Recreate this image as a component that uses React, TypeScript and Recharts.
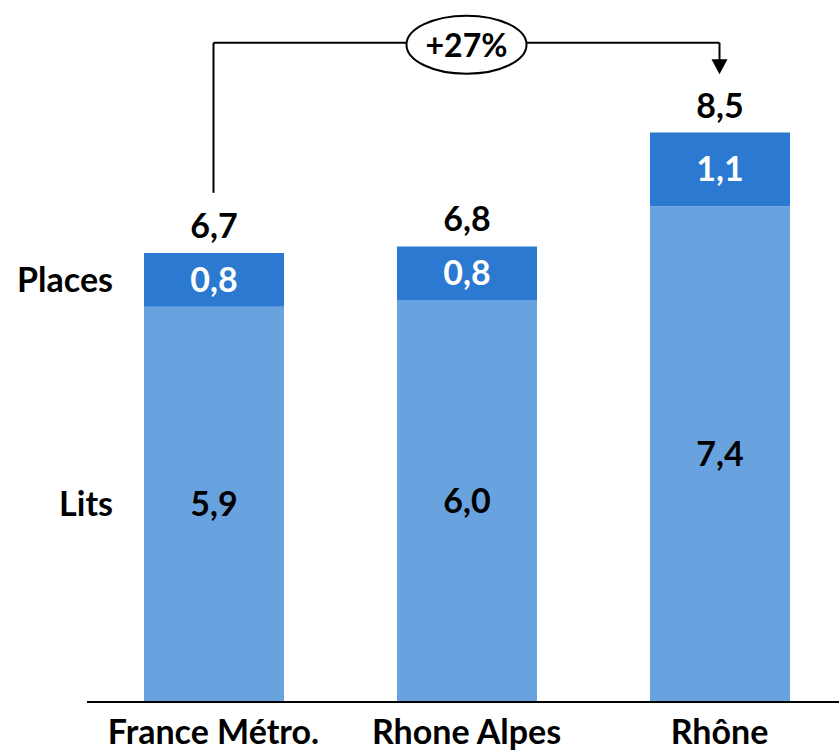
import React from 'react';
import { BarChart, Bar, XAxis, YAxis, LabelList, ReferenceLine, ReferenceDot } from 'recharts';

const categories = ['France Métro.', 'Rhone Alpes', 'Rhône'];
const lits = [5.9, 6.0, 7.4];
const places = [0.8, 0.8, 1.1];
const totals = [6.7, 6.8, 8.5];
const seriesNames = ['Lits', 'Places'];
const growthLabel = '+27%';

const FONT = 'Lato, "Open Sans", sans-serif';
const LIGHT = '#69A3DF';
const DARK = '#2B79D0';
const SIZE = 34;

const fmt = (v: number) => v.toFixed(1).replace('.', ',');

const data = categories.map((name, i) => ({
  name,
  lits: lits[i],
  places: places[i],
  total: totals[i],
}));

function box(props: any) {
  const vb = props.viewBox || {};
  return {
    x: props.x ?? vb.x,
    y: props.y ?? vb.y,
    width: props.width ?? vb.width,
    height: props.height ?? vb.height,
  };
}

const inBarLabel = (color: string, series: string) => (props: any) => {
  const { x, y, width, height } = box(props);
  const cy = y + height / 2;
  return (
    <g>
      <text x={x + width / 2} y={cy + 12} textAnchor="middle" fill={color}
        fontFamily={FONT} fontWeight={700} fontSize={SIZE}>
        {fmt(Number(props.value))}
      </text>
      {props.index === 0 && (
        <text x={x - 31} y={cy + 12} textAnchor="end" fill="#000"
          fontFamily={FONT} fontWeight={700} fontSize={SIZE}>
          {series}
        </text>
      )}
    </g>
  );
};

const totalLabel = (props: any) => {
  const { x, y, width } = box(props);
  return (
    <text x={x + width / 2} y={y - 15} textAnchor="middle" fill="#000"
      fontFamily={FONT} fontWeight={700} fontSize={SIZE}>
      {fmt(Number(props.value))}
    </text>
  );
};

const CategoryTick = (props: any) => {
  const { x, payload } = props;
  return (
    <text x={x} y={744} textAnchor="middle" fill="#000"
      fontFamily={FONT} fontWeight={700} fontSize={SIZE}>
      {payload.value}
    </text>
  );
};

const ArrowLine = (props: any) => {
  const { x1, y1, x2, y2 } = props;
  return (
    <g>
      <line x1={x1} y1={y1} x2={x2} y2={y2 - 14} stroke="#000" strokeWidth={2} />
      <polygon points={`${x2 - 8},${y2 - 15} ${x2 + 8},${y2 - 15} ${x2},${y2}`} fill="#000" />
    </g>
  );
};

const GrowthBubble = (props: any) => {
  const { cx, cy } = props;
  return (
    <g>
      <ellipse cx={cx} cy={cy} rx={60} ry={29} fill="#fff" stroke="#000" strokeWidth={2} />
      <text x={cx} y={cy + 12} textAnchor="middle" fill="#000"
        fontFamily={FONT} fontWeight={700} fontSize={32}>
        {growthLabel}
      </text>
    </g>
  );
};

export default function App() {
  return (
    <div style={{ position: 'absolute', left: 0, top: 0, width: 839, height: 754, overflow: 'hidden', background: '#fff' }}>
      <BarChart width={848} height={754} data={data}
        margin={{ top: 32, right: 2, left: 87, bottom: 12 }}>
        <XAxis dataKey="name" height={40} tickLine={false}
          axisLine={{ stroke: '#000', strokeWidth: 2 }} tick={<CategoryTick />} interval={0} />
        <YAxis hide domain={[0, 10]} />
        <Bar dataKey="lits" stackId="a" fill={LIGHT} barSize={140} isAnimationActive={false}>
          <LabelList dataKey="lits" content={inBarLabel('#000', seriesNames[0])} />
        </Bar>
        <Bar dataKey="places" stackId="a" fill={DARK} barSize={140} isAnimationActive={false}>
          <LabelList dataKey="places" content={inBarLabel('#fff', seriesNames[1])} />
          <LabelList dataKey="total" content={totalLabel} />
        </Bar>
        <ReferenceLine segment={[{ x: categories[0], y: 7.6 }, { x: categories[0], y: 9.84 }]}
          stroke="#000" strokeWidth={2} />
        <ReferenceLine segment={[{ x: categories[0], y: 9.84 }, { x: categories[2], y: 9.84 }]}
          stroke="#000" strokeWidth={2} />
        <ReferenceLine segment={[{ x: categories[2], y: 9.84 }, { x: categories[2], y: 9.37 }]}
          shape={<ArrowLine />} />
        <ReferenceDot x={categories[1]} y={9.81} r={1} shape={<GrowthBubble />} />
      </BarChart>
    </div>
  );
}
